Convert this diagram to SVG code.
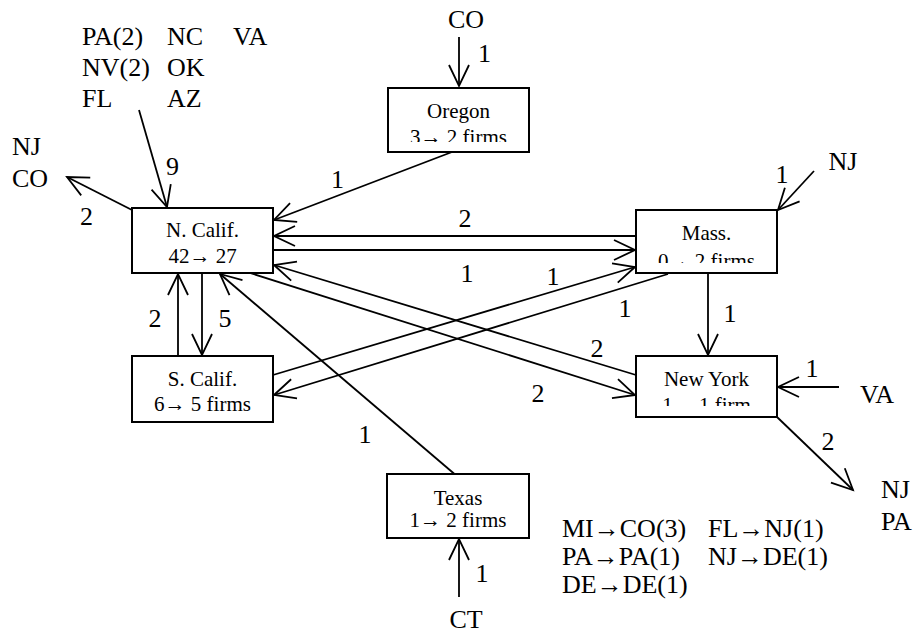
<svg xmlns="http://www.w3.org/2000/svg" width="913" height="634" viewBox="0 0 913 634" font-family="Liberation Serif, serif">
<style>
.box{fill:#fff;stroke:#000;stroke-width:2}
.nt{font-size:21px;text-anchor:middle;fill:#000}
.lb{font-size:26px;fill:#000}
.c{text-anchor:middle}
.ln{stroke:#000;stroke-width:1.8;fill:none;marker-end:url(#ah)}
</style>
<defs>
<marker id="ah" markerUnits="userSpaceOnUse" markerWidth="30" markerHeight="30" viewBox="-24 -15 28 30" refX="0" refY="0" orient="auto" overflow="visible">
<path d="M-21,-10 L0,0 L-21,10" fill="none" stroke="#000" stroke-width="1.8"/>
</marker>
<clipPath id="cOr"><rect x="388" y="88" width="141" height="54"/></clipPath>
<clipPath id="cMa"><rect x="636" y="210" width="141" height="53"/></clipPath>
<clipPath id="cNy"><rect x="636" y="356" width="141" height="50"/></clipPath>
</defs>

<g id="connectors">
<line class="ln" x1="459" y1="37" x2="459" y2="86"/>
<line class="ln" x1="139" y1="110" x2="167" y2="207"/>
<line class="ln" x1="132" y1="210" x2="67" y2="177"/>
<line class="ln" x1="452" y1="152" x2="274" y2="220"/>
<line class="ln" x1="636" y1="236" x2="274" y2="236"/>
<line class="ln" x1="273" y1="250" x2="635" y2="250"/>
<line class="ln" x1="273" y1="375" x2="635" y2="267"/>
<line class="ln" x1="668" y1="274" x2="274" y2="395"/>
<line class="ln" x1="636" y1="375" x2="274" y2="265"/>
<line class="ln" x1="250" y1="273" x2="635" y2="395"/>
<line class="ln" x1="458" y1="477" x2="220" y2="274"/>
<line class="ln" x1="178" y1="356" x2="178" y2="274"/>
<line class="ln" x1="202" y1="273" x2="202" y2="355"/>
<line class="ln" x1="814" y1="171" x2="778" y2="210"/>
<line class="ln" x1="708" y1="273" x2="708" y2="355"/>
<line class="ln" x1="839" y1="387" x2="778" y2="387"/>
<line class="ln" x1="777" y1="417" x2="853" y2="490"/>
<line class="ln" x1="459" y1="597" x2="459" y2="539"/>
</g>

<g id="oregon">
<rect class="box" x="388" y="88" width="141" height="64"/>
<text class="nt" x="458.5" y="118">Oregon</text>
<text class="nt" x="458.5" y="144" clip-path="url(#cOr)">3→ 2 firms</text>
</g>
<g id="ncalif">
<rect class="box" x="132" y="208" width="141" height="65"/>
<text class="nt" x="202.5" y="237">N. Calif.</text>
<text class="nt" x="202.5" y="263">42→ 27</text>
</g>
<g id="mass">
<rect class="box" x="636" y="210" width="141" height="63"/>
<text class="nt" x="706.5" y="240">Mass.</text>
<text class="nt" x="706.5" y="268" clip-path="url(#cMa)">0→ 2 firms</text>
</g>
<g id="scalif">
<rect class="box" x="132" y="356" width="141" height="66"/>
<text class="nt" x="202.5" y="386">S. Calif.</text>
<text class="nt" x="202.5" y="411">6→ 5 firms</text>
</g>
<g id="newyork">
<rect class="box" x="636" y="356" width="141" height="61"/>
<text class="nt" x="706.5" y="386">New York</text>
<text class="nt" x="706.5" y="412" clip-path="url(#cNy)">1→ 1 firm</text>
</g>
<g id="texas">
<rect class="box" x="387" y="474" width="142" height="64"/>
<text class="nt" x="458" y="505">Texas</text>
<text class="nt" x="458" y="527">1→ 2 firms</text>
</g>

<g id="labels">
<text class="lb c" x="466" y="28">CO</text>
<text class="lb" x="478" y="62">1</text>
<text class="lb" x="82" y="45">PA(2)</text>
<text class="lb" x="167" y="45">NC</text>
<text class="lb" x="233" y="45">VA</text>
<text class="lb" x="82" y="76">NV(2)</text>
<text class="lb" x="167" y="76">OK</text>
<text class="lb" x="82" y="107">FL</text>
<text class="lb" x="167" y="107">AZ</text>
<text class="lb" x="166" y="175">9</text>
<text class="lb" x="12" y="155">NJ</text>
<text class="lb" x="12" y="187">CO</text>
<text class="lb" x="80" y="225">2</text>
<text class="lb" x="331" y="188">1</text>
<text class="lb c" x="465" y="227">2</text>
<text class="lb c" x="467" y="282">1</text>
<text class="lb c" x="553" y="285">1</text>
<text class="lb c" x="625" y="317">1</text>
<text class="lb c" x="597" y="357">2</text>
<text class="lb c" x="538" y="402">2</text>
<text class="lb c" x="365" y="443">1</text>
<text class="lb c" x="155" y="327">2</text>
<text class="lb c" x="225" y="327">5</text>
<text class="lb c" x="843" y="170">NJ</text>
<text class="lb c" x="782" y="183">1</text>
<text class="lb c" x="730" y="322">1</text>
<text class="lb c" x="812" y="377">1</text>
<text class="lb c" x="877" y="403">VA</text>
<text class="lb c" x="828" y="450">2</text>
<text class="lb" x="881" y="498">NJ</text>
<text class="lb" x="881" y="530">PA</text>
<text class="lb c" x="482" y="582">1</text>
<text class="lb c" x="466" y="628">CT</text>
<text class="lb" x="562" y="537">MI→CO(3)</text>
<text class="lb" x="708" y="537">FL→NJ(1)</text>
<text class="lb" x="562" y="565">PA→PA(1)</text>
<text class="lb" x="708" y="565">NJ→DE(1)</text>
<text class="lb" x="562" y="593">DE→DE(1)</text>
</g>
</svg>
